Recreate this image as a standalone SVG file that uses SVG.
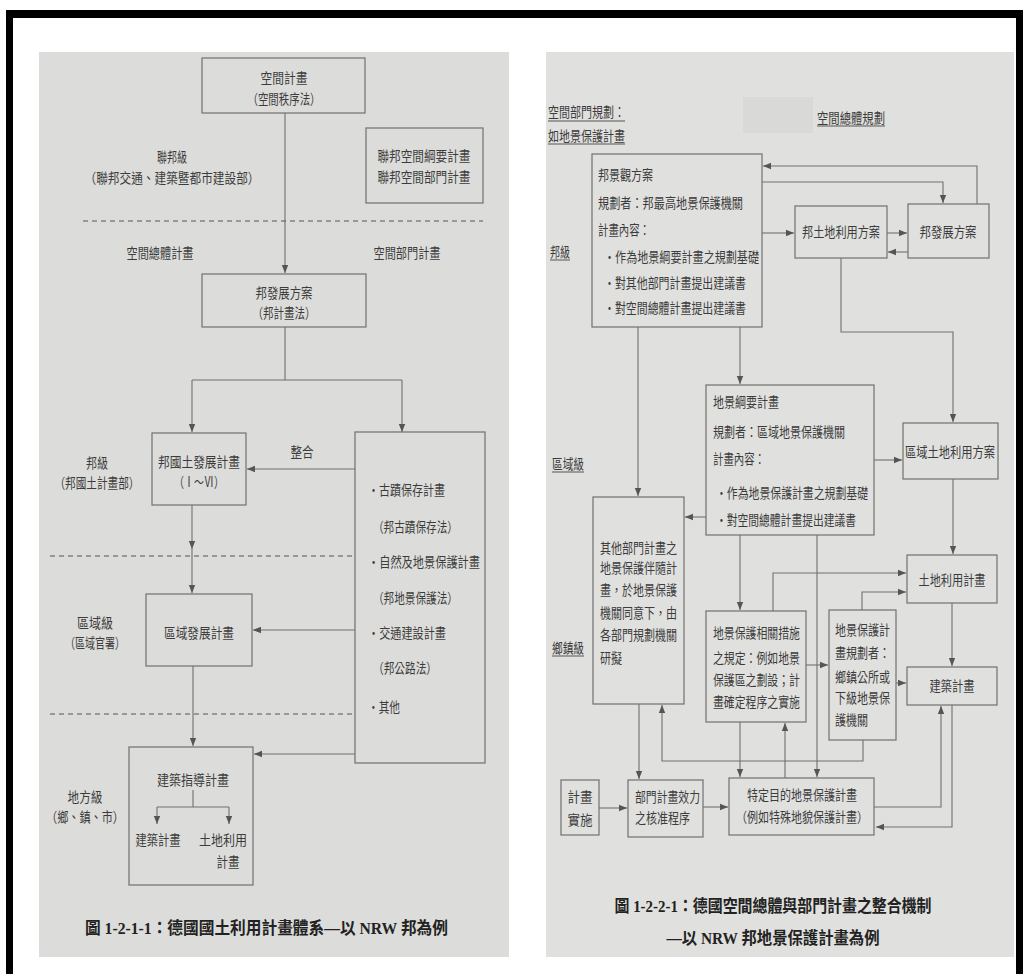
<svg xmlns="http://www.w3.org/2000/svg" width="1026" height="974" viewBox="0 0 1026 974">
<style>
.pgl{fill:#dcdcda}
.pgr{fill:#e0e0de}
.frame{fill:#000}
.box{fill:none;stroke:#707070;stroke-width:1.2}
.ln{fill:none;stroke:#707070;stroke-width:1.1}
.dash{fill:none;stroke:#555;stroke-width:1.1;stroke-dasharray:5 4}
.ul{stroke:#555;stroke-width:1}
text{font-family:"Noto Sans CJK TC","Noto Sans CJK SC",sans-serif;font-size:14px;fill:#3c3c3c}
.c{text-anchor:middle}
.cap{font-family:"Liberation Serif","Noto Sans CJK TC",serif;font-size:17px;font-weight:bold;fill:#222}
</style>
<defs>
<marker id="ah" viewBox="0 0 10 10" refX="10" refY="5" markerWidth="8" markerHeight="8" markerUnits="userSpaceOnUse" orient="auto">
<path d="M0,1 L10,5 L0,9 z" fill="#555"/>
</marker>
</defs>
<rect width="1026" height="974" fill="#fff"/>
<rect class="pgl" x="39" y="52" width="470" height="905"/>
<rect class="pgr" x="546" y="52" width="468" height="905"/>
<rect x="743" y="97" width="70" height="36" fill="#d9d9d7"/>
<rect class="frame" x="6" y="10" width="1017" height="8"/>
<rect class="frame" x="6" y="10" width="7" height="964"/>
<rect class="frame" x="1016" y="10" width="7" height="964"/>

<!-- LEFT DIAGRAM -->
<g id="left-connectors">
<path class="ln" d="M285,113 V273" marker-end="url(#ah)"/>
<path class="ln" d="M285,327 V380 M192,380 H402"/>
<path class="ln" d="M192,380 V432" marker-end="url(#ah)"/>
<path class="ln" d="M402,380 V432" marker-end="url(#ah)"/>
<path class="ln" d="M355,469 H247" marker-end="url(#ah)"/>
<path class="ln" d="M192,505 V549" marker-end="url(#ah)"/>
<path class="ln" d="M192,549 V593" marker-end="url(#ah)"/>
<path class="ln" d="M355,630 H253" marker-end="url(#ah)"/>
<path class="ln" d="M193,666 V746" marker-end="url(#ah)"/>
<path class="ln" d="M355,754 H254" marker-end="url(#ah)"/>
<path class="ln" d="M193,790 V807 M157,807 H229"/>
<path class="ln" d="M157,807 V824" marker-end="url(#ah)"/>
<path class="ln" d="M229,807 V824" marker-end="url(#ah)"/>
<path class="dash" d="M83,221 H483"/>
<path class="dash" d="M50,556 H355"/>
<path class="dash" d="M50,714 H355"/>
</g>

<g id="n-kongjian">
<rect class="box" x="202" y="58" width="163" height="55"/>
<text class="c" x="284" y="83" textLength="47" lengthAdjust="spacingAndGlyphs">空間計畫</text>
<text class="c" x="284" y="104" textLength="73" lengthAdjust="spacingAndGlyphs">（空間秩序法）</text>
</g>
<g id="lbl-lianbang">
<text class="c" x="172" y="162" textLength="30" lengthAdjust="spacingAndGlyphs">聯邦級</text>
<text class="c" x="172" y="183" textLength="175" lengthAdjust="spacingAndGlyphs">（聯邦交通、建築暨都市建設部）</text>
</g>
<g id="n-lianbang-plan">
<rect class="box" x="366" y="128" width="117" height="75"/>
<text class="c" x="424" y="161" textLength="93" lengthAdjust="spacingAndGlyphs">聯邦空間綱要計畫</text>
<text class="c" x="424" y="182" textLength="93" lengthAdjust="spacingAndGlyphs">聯邦空間部門計畫</text>
</g>
<g id="lbl-zongti">
<text class="c" x="160" y="258" textLength="67" lengthAdjust="spacingAndGlyphs">空間總體計畫</text>
<text class="c" x="407" y="258" textLength="67" lengthAdjust="spacingAndGlyphs">空間部門計畫</text>
</g>
<g id="n-bangfazhan">
<rect class="box" x="202" y="274" width="164" height="53"/>
<text class="c" x="284" y="298" textLength="57" lengthAdjust="spacingAndGlyphs">邦發展方案</text>
<text class="c" x="284" y="318" textLength="63" lengthAdjust="spacingAndGlyphs">（邦計畫法）</text>
</g>
<g id="n-bangguotu">
<rect class="box" x="152" y="433" width="94" height="72"/>
<text class="c" x="199" y="467" textLength="82" lengthAdjust="spacingAndGlyphs">邦國土發展計畫</text>
<text class="c" x="199" y="487" textLength="50" lengthAdjust="spacingAndGlyphs">（Ⅰ～Ⅵ）</text>
</g>
<g id="lbl-zhenghe"><text class="c" x="302" y="457" textLength="23" lengthAdjust="spacingAndGlyphs">整合</text></g>
<g id="lbl-bangji">
<text class="c" x="97" y="468" textLength="22" lengthAdjust="spacingAndGlyphs">邦級</text>
<text class="c" x="97" y="488" textLength="85" lengthAdjust="spacingAndGlyphs">（邦國土計畫部）</text>
</g>
<g id="n-bumen">
<rect class="box" x="355" y="432" width="130" height="331"/>
<text x="368" y="495" textLength="77" lengthAdjust="spacingAndGlyphs">•古蹟保存計畫</text>
<text x="373" y="532" textLength="85" lengthAdjust="spacingAndGlyphs">（邦古蹟保存法）</text>
<text x="368" y="567" textLength="112" lengthAdjust="spacingAndGlyphs">•自然及地景保護計畫</text>
<text x="373" y="603" textLength="85" lengthAdjust="spacingAndGlyphs">（邦地景保護法）</text>
<text x="368" y="638" textLength="78" lengthAdjust="spacingAndGlyphs">•交通建設計畫</text>
<text x="373" y="673" textLength="64" lengthAdjust="spacingAndGlyphs">（邦公路法）</text>
<text x="368" y="712" textLength="32" lengthAdjust="spacingAndGlyphs">•其他</text>
</g>
<g id="lbl-quyu">
<text class="c" x="95" y="628" textLength="36" lengthAdjust="spacingAndGlyphs">區域級</text>
<text class="c" x="95" y="648" textLength="60" lengthAdjust="spacingAndGlyphs">（區域官署）</text>
</g>
<g id="n-quyufazhan">
<rect class="box" x="146" y="594" width="106" height="72"/>
<text class="c" x="199" y="638" textLength="70" lengthAdjust="spacingAndGlyphs">區域發展計畫</text>
</g>
<g id="lbl-difang">
<text class="c" x="85" y="802" textLength="35" lengthAdjust="spacingAndGlyphs">地方級</text>
<text class="c" x="85" y="822" textLength="78" lengthAdjust="spacingAndGlyphs">（鄉、鎮、市）</text>
</g>
<g id="n-jianzhu-zhidao">
<rect class="box" x="129" y="747" width="124" height="138"/>
<text class="c" x="193" y="785" textLength="72" lengthAdjust="spacingAndGlyphs">建築指導計畫</text>
<text class="c" x="158" y="845" textLength="45" lengthAdjust="spacingAndGlyphs">建築計畫</text>
<text class="c" x="223" y="845" textLength="48" lengthAdjust="spacingAndGlyphs">土地利用</text>
<text class="c" x="228" y="867" textLength="23" lengthAdjust="spacingAndGlyphs">計畫</text>
</g>
<g id="cap-left">
<text class="cap" x="85" y="934" textLength="363" lengthAdjust="spacingAndGlyphs">圖 1-2-1-1：德國國土利用計畫體系—以 NRW 邦為例</text>
</g>

<!-- RIGHT DIAGRAM -->
<g id="right-connectors">
<path class="ln" d="M762,233 H794" marker-end="url(#ah)"/>
<path class="ln" d="M887,233 H907" marker-end="url(#ah)"/>
<path class="ln" d="M908,252 H888" marker-end="url(#ah)"/>
<path class="ln" d="M762,182 H943 V203" marker-end="url(#ah)"/>
<path class="ln" d="M977,204 V166 H763" marker-end="url(#ah)"/>
<path class="ln" d="M841,258 V332 H953 V422" marker-end="url(#ah)"/>
<path class="ln" d="M740,327 V384" marker-end="url(#ah)"/>
<path class="ln" d="M638,327 V496" marker-end="url(#ah)"/>
<path class="ln" d="M874,460 H902" marker-end="url(#ah)"/>
<path class="ln" d="M706,517 H685" marker-end="url(#ah)"/>
<path class="ln" d="M953,479 V554" marker-end="url(#ah)"/>
<path class="ln" d="M740,535 V610" marker-end="url(#ah)"/>
<path class="ln" d="M817,535 V777" marker-end="url(#ah)"/>
<path class="ln" d="M773,611 V573 H906" marker-end="url(#ah)"/>
<path class="ln" d="M862,610 V592 H906" marker-end="url(#ah)"/>
<path class="ln" d="M806,665 H828" marker-end="url(#ah)"/>
<path class="ln" d="M896,683 H906" marker-end="url(#ah)"/>
<path class="ln" d="M952,603 V666" marker-end="url(#ah)"/>
<path class="ln" d="M952,705 V827 H876" marker-end="url(#ah)"/>
<path class="ln" d="M874,807 H941 V706" marker-end="url(#ah)"/>
<path class="ln" d="M639,704 V779" marker-end="url(#ah)"/>
<path class="ln" d="M740,722 V777" marker-end="url(#ah)"/>
<path class="ln" d="M785,778 V723" marker-end="url(#ah)"/>
<path class="ln" d="M863,740 V761 H662 V705" marker-end="url(#ah)"/>
<path class="ln" d="M599,808 H627" marker-end="url(#ah)"/>
<path class="ln" d="M703,807 H728" marker-end="url(#ah)"/>
</g>

<g id="lbl-bumen-guihua">
<text x="548" y="117" textLength="77" lengthAdjust="spacingAndGlyphs">空間部門規劃：</text>
<line class="ul" x1="548" y1="121" x2="625" y2="121"/>
<text x="548" y="141" textLength="77" lengthAdjust="spacingAndGlyphs">如地景保護計畫</text>
<line class="ul" x1="548" y1="144" x2="625" y2="144"/>
</g>
<g id="lbl-zongti-guihua">
<text x="817" y="123" textLength="68" lengthAdjust="spacingAndGlyphs">空間總體規劃</text>
<line class="ul" x1="817" y1="126" x2="885" y2="126"/>
</g>
<g id="lbl-r-bangji">
<text x="550" y="257" textLength="20" lengthAdjust="spacingAndGlyphs">邦級</text>
<line class="ul" x1="550" y1="260" x2="570" y2="260"/>
</g>
<g id="lbl-r-quyu">
<text x="552" y="469" textLength="32" lengthAdjust="spacingAndGlyphs">區域級</text>
<line class="ul" x1="552" y1="472" x2="584" y2="472"/>
</g>
<g id="lbl-r-xiangzhen">
<text x="552" y="653" textLength="32" lengthAdjust="spacingAndGlyphs">鄉鎮級</text>
<line class="ul" x1="552" y1="656" x2="584" y2="656"/>
</g>

<g id="n-bangjingguan">
<rect class="box" x="592" y="154" width="170" height="173"/>
<text x="598" y="180" textLength="55" lengthAdjust="spacingAndGlyphs">邦景觀方案</text>
<text x="598" y="208" textLength="145" lengthAdjust="spacingAndGlyphs">規劃者：邦最高地景保護機關</text>
<text x="598" y="235" textLength="52" lengthAdjust="spacingAndGlyphs">計畫內容：</text>
<text x="604" y="262" textLength="155" lengthAdjust="spacingAndGlyphs">•作為地景綱要計畫之規劃基礎</text>
<text x="604" y="288" textLength="142" lengthAdjust="spacingAndGlyphs">•對其他部門計畫提出建議書</text>
<text x="604" y="313" textLength="142" lengthAdjust="spacingAndGlyphs">•對空間總體計畫提出建議書</text>
</g>
<g id="n-bangtudi">
<rect class="box" x="795" y="206" width="92" height="52"/>
<text class="c" x="841" y="237" textLength="78" lengthAdjust="spacingAndGlyphs">邦土地利用方案</text>
</g>
<g id="n-r-bangfazhan">
<rect class="box" x="908" y="204" width="81" height="54"/>
<text class="c" x="948" y="237" textLength="57" lengthAdjust="spacingAndGlyphs">邦發展方案</text>
</g>
<g id="n-quyutudi">
<rect class="box" x="903" y="423" width="95" height="56"/>
<text class="c" x="950" y="457" textLength="90" lengthAdjust="spacingAndGlyphs">區域土地利用方案</text>
</g>
<g id="n-dijinggangyao">
<rect class="box" x="706" y="385" width="168" height="150"/>
<text x="713" y="407" textLength="66" lengthAdjust="spacingAndGlyphs">地景綱要計畫</text>
<text x="713" y="437" textLength="132" lengthAdjust="spacingAndGlyphs">規劃者：區域地景保護機關</text>
<text x="713" y="464" textLength="52" lengthAdjust="spacingAndGlyphs">計畫內容：</text>
<text x="716" y="498" textLength="152" lengthAdjust="spacingAndGlyphs">•作為地景保護計畫之規劃基礎</text>
<text x="716" y="525" textLength="140" lengthAdjust="spacingAndGlyphs">•對空間總體計畫提出建議書</text>
</g>
<g id="n-qitabumen">
<rect class="box" x="593" y="497" width="91" height="207"/>
<text x="600" y="553" textLength="77" lengthAdjust="spacingAndGlyphs">其他部門計畫之</text>
<text x="600" y="573" textLength="77" lengthAdjust="spacingAndGlyphs">地景保護伴隨計</text>
<text x="600" y="595" textLength="77" lengthAdjust="spacingAndGlyphs">畫，於地景保護</text>
<text x="600" y="618" textLength="77" lengthAdjust="spacingAndGlyphs">機關同意下，由</text>
<text x="600" y="640" textLength="77" lengthAdjust="spacingAndGlyphs">各部門規劃機關</text>
<text x="600" y="663" textLength="22" lengthAdjust="spacingAndGlyphs">研擬</text>
</g>
<g id="n-tudiliyong">
<rect class="box" x="907" y="555" width="90" height="48"/>
<text class="c" x="952" y="585" textLength="67" lengthAdjust="spacingAndGlyphs">土地利用計畫</text>
</g>
<g id="n-cuoshi">
<rect class="box" x="706" y="611" width="100" height="111"/>
<text x="713" y="638" textLength="87" lengthAdjust="spacingAndGlyphs">地景保護相關措施</text>
<text x="713" y="663" textLength="87" lengthAdjust="spacingAndGlyphs">之規定：例如地景</text>
<text x="713" y="685" textLength="87" lengthAdjust="spacingAndGlyphs">保護區之劃設；計</text>
<text x="713" y="707" textLength="87" lengthAdjust="spacingAndGlyphs">畫確定程序之實施</text>
</g>
<g id="n-dijingbaohu">
<rect class="box" x="829" y="610" width="67" height="130"/>
<text x="835" y="635" textLength="55" lengthAdjust="spacingAndGlyphs">地景保護計</text>
<text x="835" y="658" textLength="55" lengthAdjust="spacingAndGlyphs">畫規劃者：</text>
<text x="835" y="682" textLength="55" lengthAdjust="spacingAndGlyphs">鄉鎮公所或</text>
<text x="835" y="703" textLength="55" lengthAdjust="spacingAndGlyphs">下級地景保</text>
<text x="835" y="725" textLength="33" lengthAdjust="spacingAndGlyphs">護機關</text>
</g>
<g id="n-jianzhu">
<rect class="box" x="907" y="667" width="90" height="38"/>
<text class="c" x="952" y="691" textLength="45" lengthAdjust="spacingAndGlyphs">建築計畫</text>
</g>
<g id="n-teding">
<rect class="box" x="729" y="778" width="145" height="57"/>
<text class="c" x="802" y="800" textLength="110" lengthAdjust="spacingAndGlyphs">特定目的地景保護計畫</text>
<text class="c" x="802" y="822" textLength="132" lengthAdjust="spacingAndGlyphs">（例如特殊地貌保護計畫）</text>
</g>
<g id="n-hezhun">
<rect class="box" x="628" y="780" width="75" height="57"/>
<text x="635" y="802" textLength="65" lengthAdjust="spacingAndGlyphs">部門計畫效力</text>
<text x="635" y="823" textLength="55" lengthAdjust="spacingAndGlyphs">之核准程序</text>
</g>
<g id="n-shishi">
<rect class="box" x="561" y="780" width="38" height="55"/>
<text class="c" x="580" y="802" textLength="25" lengthAdjust="spacingAndGlyphs">計畫</text>
<text class="c" x="580" y="825" textLength="25" lengthAdjust="spacingAndGlyphs">實施</text>
</g>
<g id="cap-right">
<text class="cap c" x="773" y="912" textLength="317" lengthAdjust="spacingAndGlyphs">圖 1-2-2-1：德國空間總體與部門計畫之整合機制</text>
<text class="cap c" x="773" y="944" textLength="213" lengthAdjust="spacingAndGlyphs">—以 NRW 邦地景保護計畫為例</text>
</g>
</svg>
